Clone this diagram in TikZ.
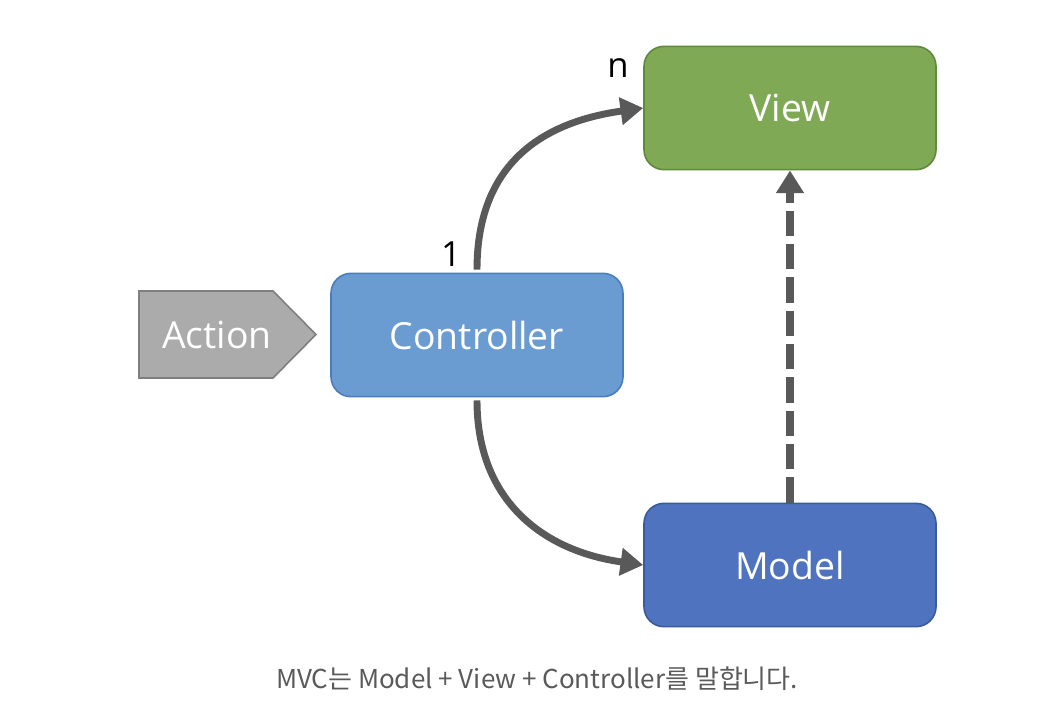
\documentclass[tikz,border=0pt]{standalone}
\usepackage{fontspec}
\setmainfont{Open Sans}
\newfontfamily\krfont{Noto Sans CJK KR}
\usetikzlibrary{arrows.meta,calc}
\definecolor{viewfill}{HTML}{7FA954}
\definecolor{viewline}{HTML}{5F8A3B}
\definecolor{ctrlfill}{HTML}{6A9BD1}
\definecolor{ctrlline}{HTML}{4A7DBE}
\definecolor{modelfill}{HTML}{4F73BE}
\definecolor{modelline}{HTML}{3A5A9A}
\definecolor{actfill}{HTML}{ABABAB}
\definecolor{actline}{HTML}{7F7F7F}
\definecolor{arrowc}{HTML}{595959}
\definecolor{capc}{HTML}{5A5A5A}
\begin{document}
\begin{tikzpicture}[x=0.75pt,y=-0.75pt,
  box/.style={rounded corners=15pt, line width=1.2pt, minimum width=219pt, minimum height=92.5pt,
    text=white, font=\fontsize{28}{34}\selectfont, inner sep=0pt},
  conn/.style={draw=arrowc, line width=5.2pt, -{Triangle[length=17pt,width=20pt]}},
  lbl/.style={font=\fontsize{26}{30}\selectfont, text=black, inner sep=0pt}
]
\useasboundingbox (0,0) rectangle (1058,722);
\node[box, fill=viewfill, draw=viewline] (view) at (790,108) {View};
\node[box, fill=ctrlfill, draw=ctrlline] (ctrl) at (477,335) {Controller};
\node[box, fill=modelfill, draw=modelline] (model) at (790,565) {Model};
\draw[fill=actfill, draw=actline, line width=1.2pt]
  (139,291) -- (273,291) -- (316,334.5) -- (273,378) -- (139,378) -- cycle;
\node[text=white, font=\fontsize{28}{34}\selectfont, inner sep=0pt] (act) at (217,335) {Action};
\coordinate (c1) at ($(ctrl.north)+(0,-3)$);
\coordinate (c2) at ($(ctrl.south)+(0,3)$);
\draw[conn] (c1) to[out=90,in=188,looseness=1.15] (view.west);
\draw[conn] (c2) to[out=-90,in=172,looseness=1.1] (model.west);
\draw[draw=arrowc, line width=5.6pt, dash pattern=on 19pt off 6pt, -{Triangle[length=17pt,width=20pt]}]
  (model.north) -- (view.south);
\node[lbl] (one) at (451,254) {1};
\node[lbl] (n) at (618,68) {n};
\node[font=\krfont\fontsize{19.5}{23}\selectfont, text=capc] (cap) at (537,679)
  {MVC는 Model + View + Controller를 말합니다.};
\end{tikzpicture}
\end{document}
